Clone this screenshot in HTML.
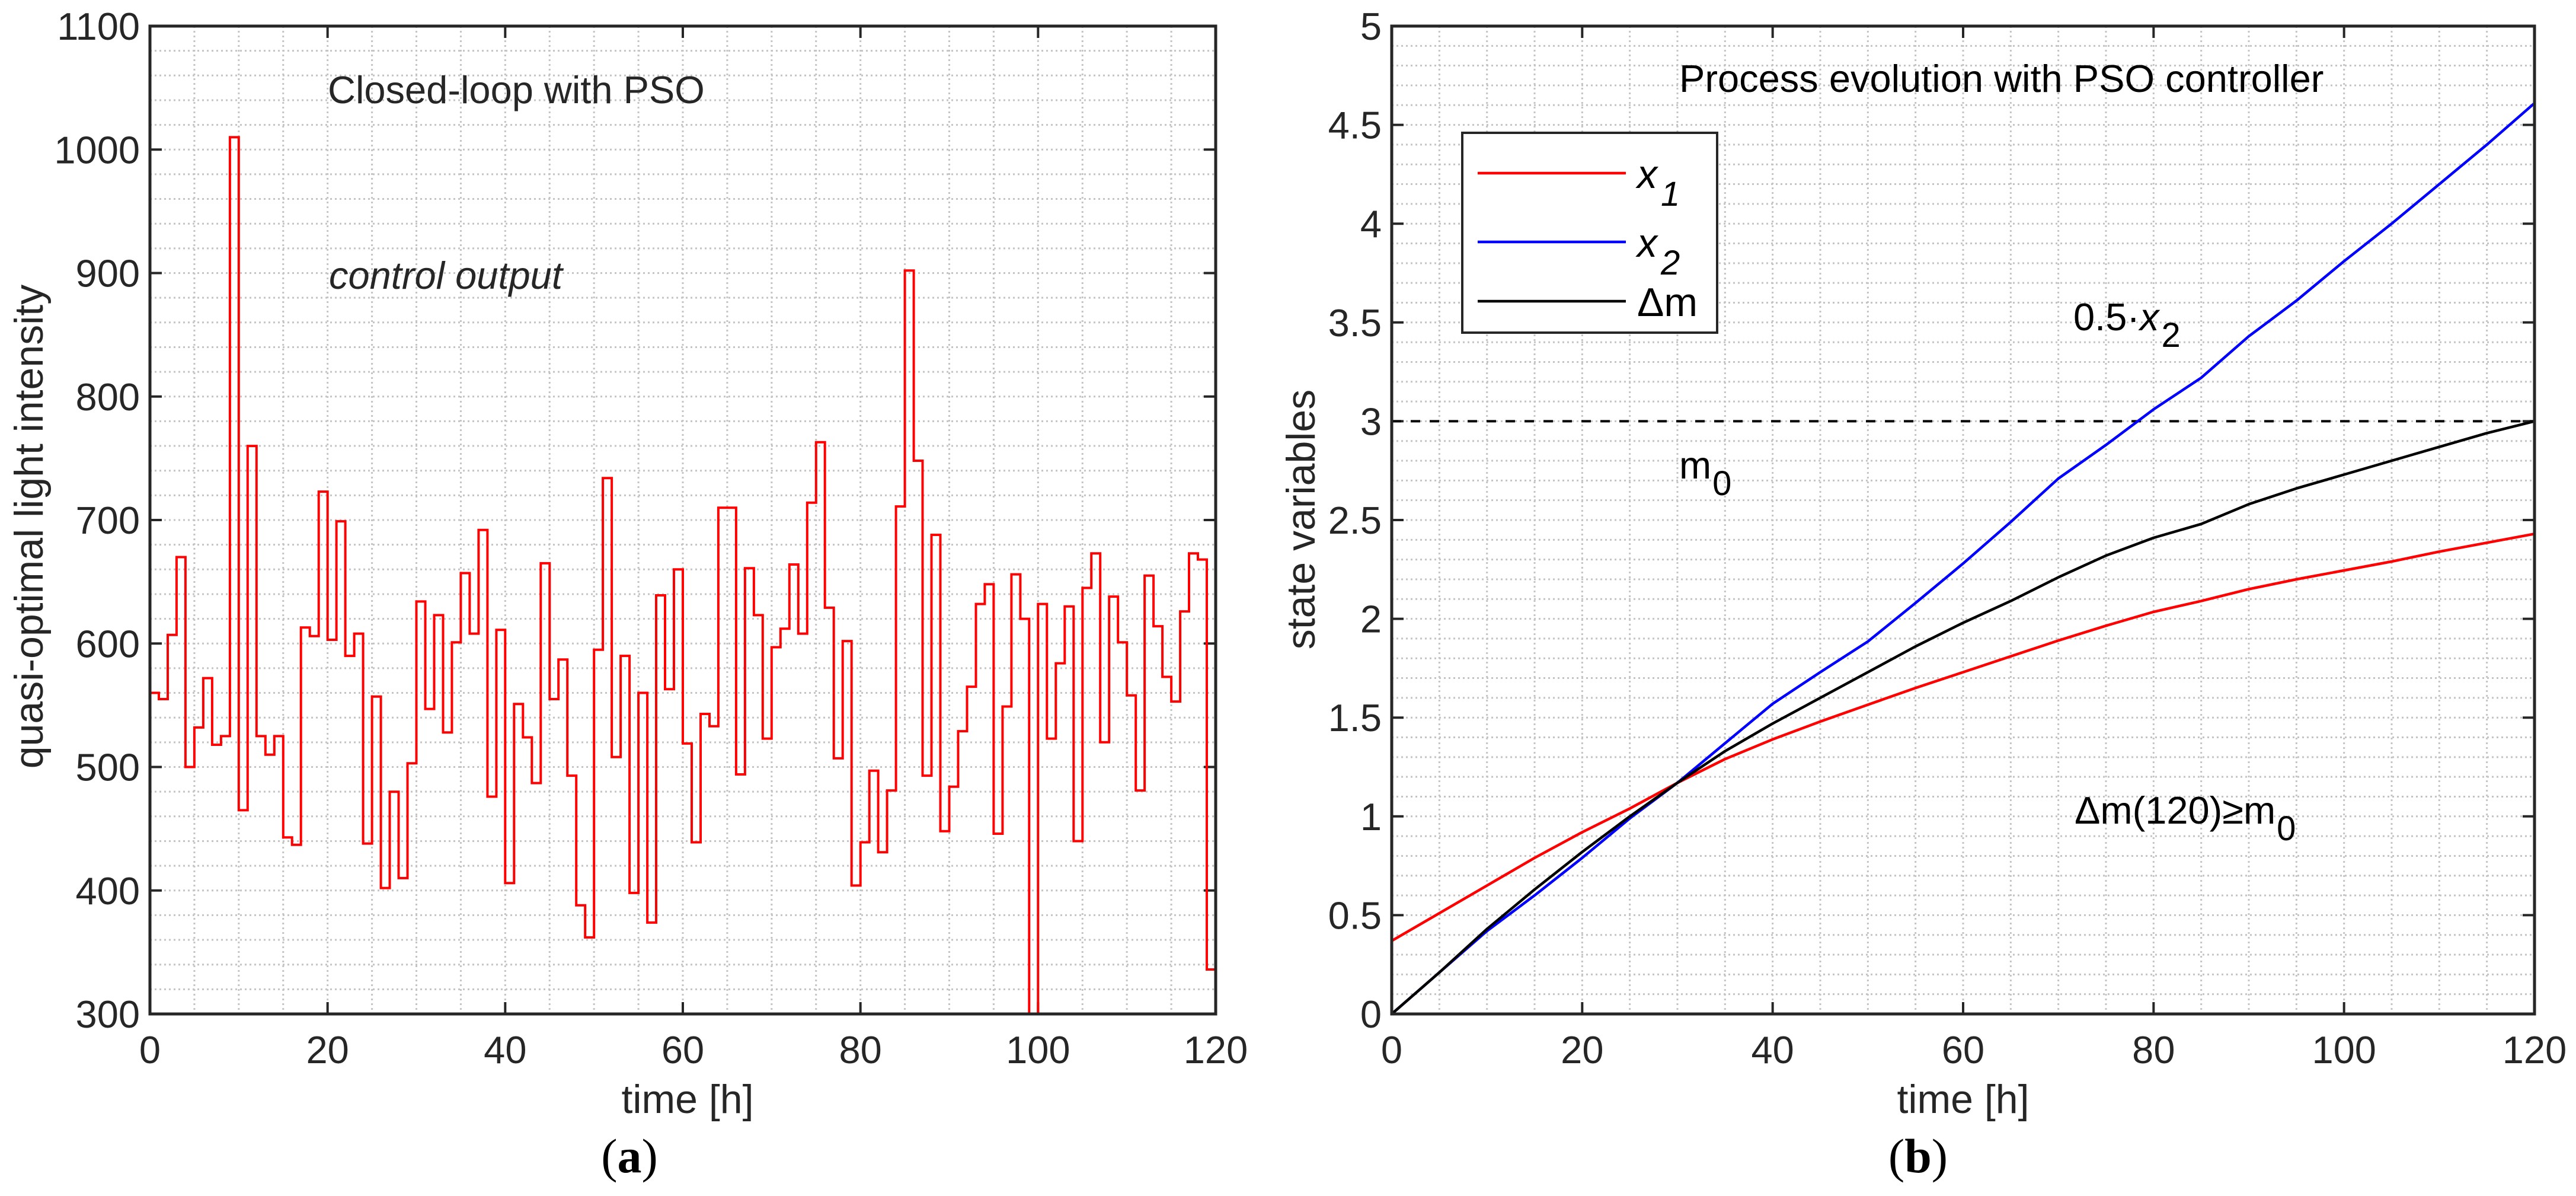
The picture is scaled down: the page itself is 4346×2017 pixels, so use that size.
<!DOCTYPE html>
<html><head><meta charset="utf-8"><style>
html,body{margin:0;padding:0;background:#fff}
svg{display:block}
text{font-family:"Liberation Sans",Arial,sans-serif;fill:#262626}
</style></head><body>
<svg id="fig" width="4346" height="2017" viewBox="0 0 4346 2017" xmlns="http://www.w3.org/2000/svg">
<g id="pa"></g>
<g id="pb"></g>
</svg>
<script>
// Panel (a) data: control output steps (1 h each)
const lightValues=[560,555,607,670,500,532,572,518,525,1010,465,760,525,510,525,443,437,613,606,723,603,699,590,608,438,557,402,480,410,503,634,547,623,528,601,657,608,692,476,611,406,551,524,487,665,555,587,493,388,362,595,734,508,590,398,560,374,639,563,660,519,439,543,533,710,710,494,661,623,523,597,612,664,608,714,763,629,507,602,404,439,497,431,481,711,902,748,493,688,448,484,529,565,632,648,446,549,656,620,300,632,523,584,630,440,645,673,520,638,601,558,481,655,614,573,553,626,673,668,336];
const xTicksA=[0,20,40,60,80,100,120];
const yTicksA=[300,400,500,600,700,800,900,1000,1100];
// Panel (b) data
const timeB=[0,5,10,15,20,25,30,35,40,45,50,55,60,65,70,75,80,85,90,95,100,105,110,115,120];
const x1Values=[0.37,0.51,0.65,0.79,0.92,1.04,1.17,1.29,1.39,1.48,1.565,1.65,1.73,1.81,1.89,1.965,2.035,2.09,2.15,2.2,2.245,2.29,2.34,2.385,2.43];
const x2Values=[0,0.21,0.42,0.6,0.79,0.99,1.17,1.37,1.57,1.73,1.885,2.08,2.28,2.49,2.71,2.88,3.06,3.22,3.43,3.61,3.81,4.0,4.2,4.4,4.61];
const dmValues=[0,0.21,0.43,0.63,0.82,1.0,1.17,1.33,1.47,1.6,1.73,1.86,1.98,2.09,2.21,2.32,2.41,2.48,2.58,2.66,2.73,2.8,2.87,2.94,3.0];
const m0Value=3;
const xTicksB=[0,20,40,60,80,100,120];
const yTicksB=[0,0.5,1,1.5,2,2.5,3,3.5,4,4.5,5];
const NS='http://www.w3.org/2000/svg';
function mk(parent,tag,attrs,txt){const e=document.createElementNS(NS,tag);for(const k in attrs)e.setAttribute(k,attrs[k]);if(txt!==undefined)e.textContent=txt;parent.appendChild(e);return e;}
function axes(g,L,R,T,B,xmin,xmax,ymin,ymax,xminor,yminor,xt,yt){
  const sx=v=>L+(v-xmin)/(xmax-xmin)*(R-L), sy=v=>B-(v-ymin)/(ymax-ymin)*(B-T);
  const grid=mk(g,'g',{});
  
  
  for(let v=xmin+xminor;v<xmax-1e-9;v+=xminor){mk(grid,'line',{x1:sx(v),x2:sx(v),y1:T,y2:B,stroke:'#c4c4c4','stroke-width':3,'stroke-dasharray':'3 5'});}
  for(let v=ymin+yminor;v<ymax-1e-9;v+=yminor){mk(grid,'line',{x1:L,x2:R,y1:sy(v),y2:sy(v),stroke:'#c4c4c4','stroke-width':3,'stroke-dasharray':'3 5'});}
  const tk=mk(g,'g',{});
  
  
  xt.forEach(v=>{const x=sx(v);mk(tk,'line',{x1:x,x2:x,y1:B,y2:B-20,stroke:'#262626','stroke-width':4});mk(tk,'line',{x1:x,x2:x,y1:T,y2:T+20,stroke:'#262626','stroke-width':4});
    const t=mk(tk,'text',{x:x,y:1793,'font-size':65,'text-anchor':'middle'},String(v));
    
    });
  yt.forEach(v=>{const y=sy(v);mk(tk,'line',{x1:L,x2:L+20,y1:y,y2:y,stroke:'#262626','stroke-width':4});mk(tk,'line',{x1:R,x2:R-20,y1:y,y2:y,stroke:'#262626','stroke-width':4});
    const t=mk(tk,'text',{x:L-17,y:y+23,'font-size':65,'text-anchor':'end'},String(v));
    
    });
  return {sx,sy};
}
function frame(g,L,R,T,B){const r=mk(g,'rect',{x:L,y:T,width:R-L,height:B-T,fill:'none',stroke:'#262626','stroke-width':5});
  
  }
// Panel A
(function(){
  const g=document.getElementById('pa');const L=253,R=2051,T=44,B=1710;
  const a=axes(g,L,R,T,B,0,120,300,1100,5,20,xTicksA,yTicksA);
  const w=120/lightValues.length;let d='';
  lightValues.forEach((v,i)=>{const x0=a.sx(i*w),x1=a.sx((i+1)*w),y=a.sy(v);d+=(i===0?'M':'L')+x0.toFixed(1)+','+y.toFixed(1)+'L'+x1.toFixed(1)+','+y.toFixed(1);});
  const p=mk(g,'path',{d:d,fill:'none',stroke:'#ff0000','stroke-width':4});
  
  
  frame(g,L,R,T,B);
  let t=mk(g,'text',{x:553,y:174,'font-size':65},'Closed-loop with PSO');
  
  t=mk(g,'text',{x:555,y:487,'font-size':65,'font-style':'italic'},'control output');
  
  t=mk(g,'text',{x:0,y:0,'font-size':68,'text-anchor':'middle',transform:'translate(72,888) rotate(-90)'},'quasi-optimal light intensity');
  
  t=mk(g,'text',{x:1160,y:1877,'font-size':68,'text-anchor':'middle'},'time [h]');
  
  t=mk(g,'text',{x:1062,y:1977,'font-size':82,'text-anchor':'middle',style:'font-family:"Liberation Serif",serif;fill:#000'});
  t.innerHTML='(<tspan font-weight="bold">a</tspan>)';
  
})();
// Panel B
(function(){
  const g=document.getElementById('pb');const L=2348,R=4276,T=44,B=1710;
  const a=axes(g,L,R,T,B,0,120,0,5,5,0.1,xTicksB,yTicksB);
  const dl=mk(g,'line',{x1:L,x2:R,y1:a.sy(m0Value),y2:a.sy(m0Value),stroke:'#000','stroke-width':4,'stroke-dasharray':'16 16'});
  
  const series=[[x1Values,'#ff0000','x1-line'],[x2Values,'#0000ff','x2-line'],[dmValues,'#000000','delta-m-line']];
  series.forEach(s=>{const pts=timeB.map((t,i)=>a.sx(t).toFixed(1)+','+a.sy(s[0][i]).toFixed(1)).join(' ');
    const p=mk(g,'polyline',{points:pts,fill:'none',stroke:s[1],'stroke-width':4.5,'stroke-linejoin':'round'});
    
    });
  frame(g,L,R,T,B);
  const lg=mk(g,'g',{});
  
  mk(lg,'rect',{x:2467,y:224,width:430,height:337,fill:'#fff',stroke:'#262626','stroke-width':4});
  const ent=[[292,'#ff0000','x','1'],[408,'#0000ff','x','2'],[508,'#000000','Δm','']];
  ent.forEach(e=>{const gg=mk(lg,'g',{});
    
    mk(gg,'line',{x1:2493,x2:2743,y1:e[0],y2:e[0],stroke:e[1],'stroke-width':4.5});
    const t=mk(gg,'text',{x:2762,y:e[0]+25,'font-size':68,style:'fill:#000'});
    if(e[3]){t.innerHTML='<tspan font-style="italic">x</tspan><tspan font-style="italic" font-size="58" dy="30" dx="6">'+e[3]+'</tspan>';}else{t.textContent=e[2];}
  });
  let t=mk(g,'text',{x:2833,y:155,'font-size':65,style:'fill:#000'},'Process evolution with PSO controller');
  
  t=mk(g,'text',{x:3498,y:557,'font-size':65,style:'fill:#000'});
  t.innerHTML='0.5·<tspan font-style="italic">x</tspan><tspan font-size="58" dy="28" dx="4">2</tspan>';
  
  t=mk(g,'text',{x:2833,y:807,'font-size':65,style:'fill:#000'});
  t.innerHTML='m<tspan font-size="58" dy="28" dx="2">0</tspan>';
  
  t=mk(g,'text',{x:3500,y:1389,'font-size':65,style:'fill:#000'});
  t.innerHTML='Δm(120)≥m<tspan font-size="58" dy="28" dx="2">0</tspan>';
  
  t=mk(g,'text',{x:0,y:0,'font-size':68,'text-anchor':'middle',transform:'translate(2218,876) rotate(-90)'},'state variables');
  
  t=mk(g,'text',{x:3312,y:1877,'font-size':68,'text-anchor':'middle'},'time [h]');
  
  t=mk(g,'text',{x:3236,y:1977,'font-size':82,'text-anchor':'middle',style:'font-family:"Liberation Serif",serif;fill:#000'});
  t.innerHTML='(<tspan font-weight="bold">b</tspan>)';
  
})();
</script>
</body></html>
